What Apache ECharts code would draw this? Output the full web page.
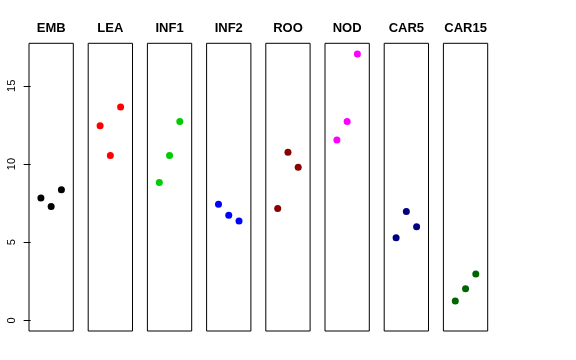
<!DOCTYPE html>
<html><head><meta charset="utf-8">
<script src="https://cdn.jsdelivr.net/npm/echarts@6/dist/echarts.min.js"></script>
<style>html,body{margin:0;padding:0;background:#fff}#c{width:576px;height:360px}</style>
</head><body><div id="c"></div>
<script>
// panel names
const groups = ['EMB','LEA','INF1','INF2','ROO','NOD','CAR5','CAR15'];
// values per panel (x = 1,2,3)
const EMB   = [7.83, 7.28, 8.36];
const LEA   = [12.45, 10.55, 13.64];
const INF1  = [8.81, 10.55, 12.72];
const INF2  = [7.43, 6.73, 6.36];
const ROO   = [7.15, 10.75, 9.79];
const NOD   = [11.53, 12.72, 17.04];
const CAR5  = [5.28, 6.96, 5.98];
const CAR15 = [1.24, 2.02, 2.96];
const panelValues = [EMB, LEA, INF1, INF2, ROO, NOD, CAR5, CAR15];
const colors = ['#000000','#FF0000','#00CD00','#0000FF','#8B0000','#FF00FF','#000080','#006400'];
const xPos = [1, 2, 3];
const yTicks = [0, 5, 10, 15];

const yMin = -0.68, yMax = 17.72;
const panelLeft0 = 29, panelStep = 59.2, panelW = 44.3, panelTop = 43.3, panelH = 287.7;

const grids = [], xAxes = [], yAxes = [], series = [], titles = [];
groups.forEach((g, i) => {
  const l = panelLeft0 + i * panelStep;
  grids.push({left: l, top: panelTop, width: panelW, height: panelH, show: true, borderColor: '#000', borderWidth: 1, backgroundColor: 'transparent'});
  xAxes.push({gridIndex: i, type: 'value', min: -0.16, max: 4.16, show: false});
  yAxes.push({
    gridIndex: i, type: 'value', min: yMin, max: yMax,
    show: i === 0,
    splitLine: {show: false},
    axisLine: {show: false},
    axisTick: {show: true, inside: false, length: 7, lineStyle: {color: '#000'}, customValues: yTicks},
    axisLabel: {show: true, rotate: 90, margin: 12, fontSize: 11, color: '#000', fontFamily: 'Liberation Sans, Arial, sans-serif', customValues: yTicks}
  });
  series.push({
    type: 'scatter', xAxisIndex: i, yAxisIndex: i,
    symbol: 'circle', symbolSize: 7,
    itemStyle: {color: colors[i], opacity: 1},
    data: panelValues[i].map((v, k) => [xPos[k], v]),
    silent: true, animation: false
  });
  titles.push({
    text: g, left: l + panelW / 2, top: 22, textAlign: 'center', padding: 0,
    textStyle: {fontSize: 13, fontWeight: 'bold', color: '#000', fontFamily: 'Liberation Sans, Arial, sans-serif'}
  });
});

const chart = echarts.init(document.getElementById('c'), null, {renderer: 'canvas'});
chart.setOption({
  animation: false,
  backgroundColor: '#fff',
  title: titles,
  grid: grids,
  xAxis: xAxes,
  yAxis: yAxes,
  series: series
});
</script>
</body></html>
